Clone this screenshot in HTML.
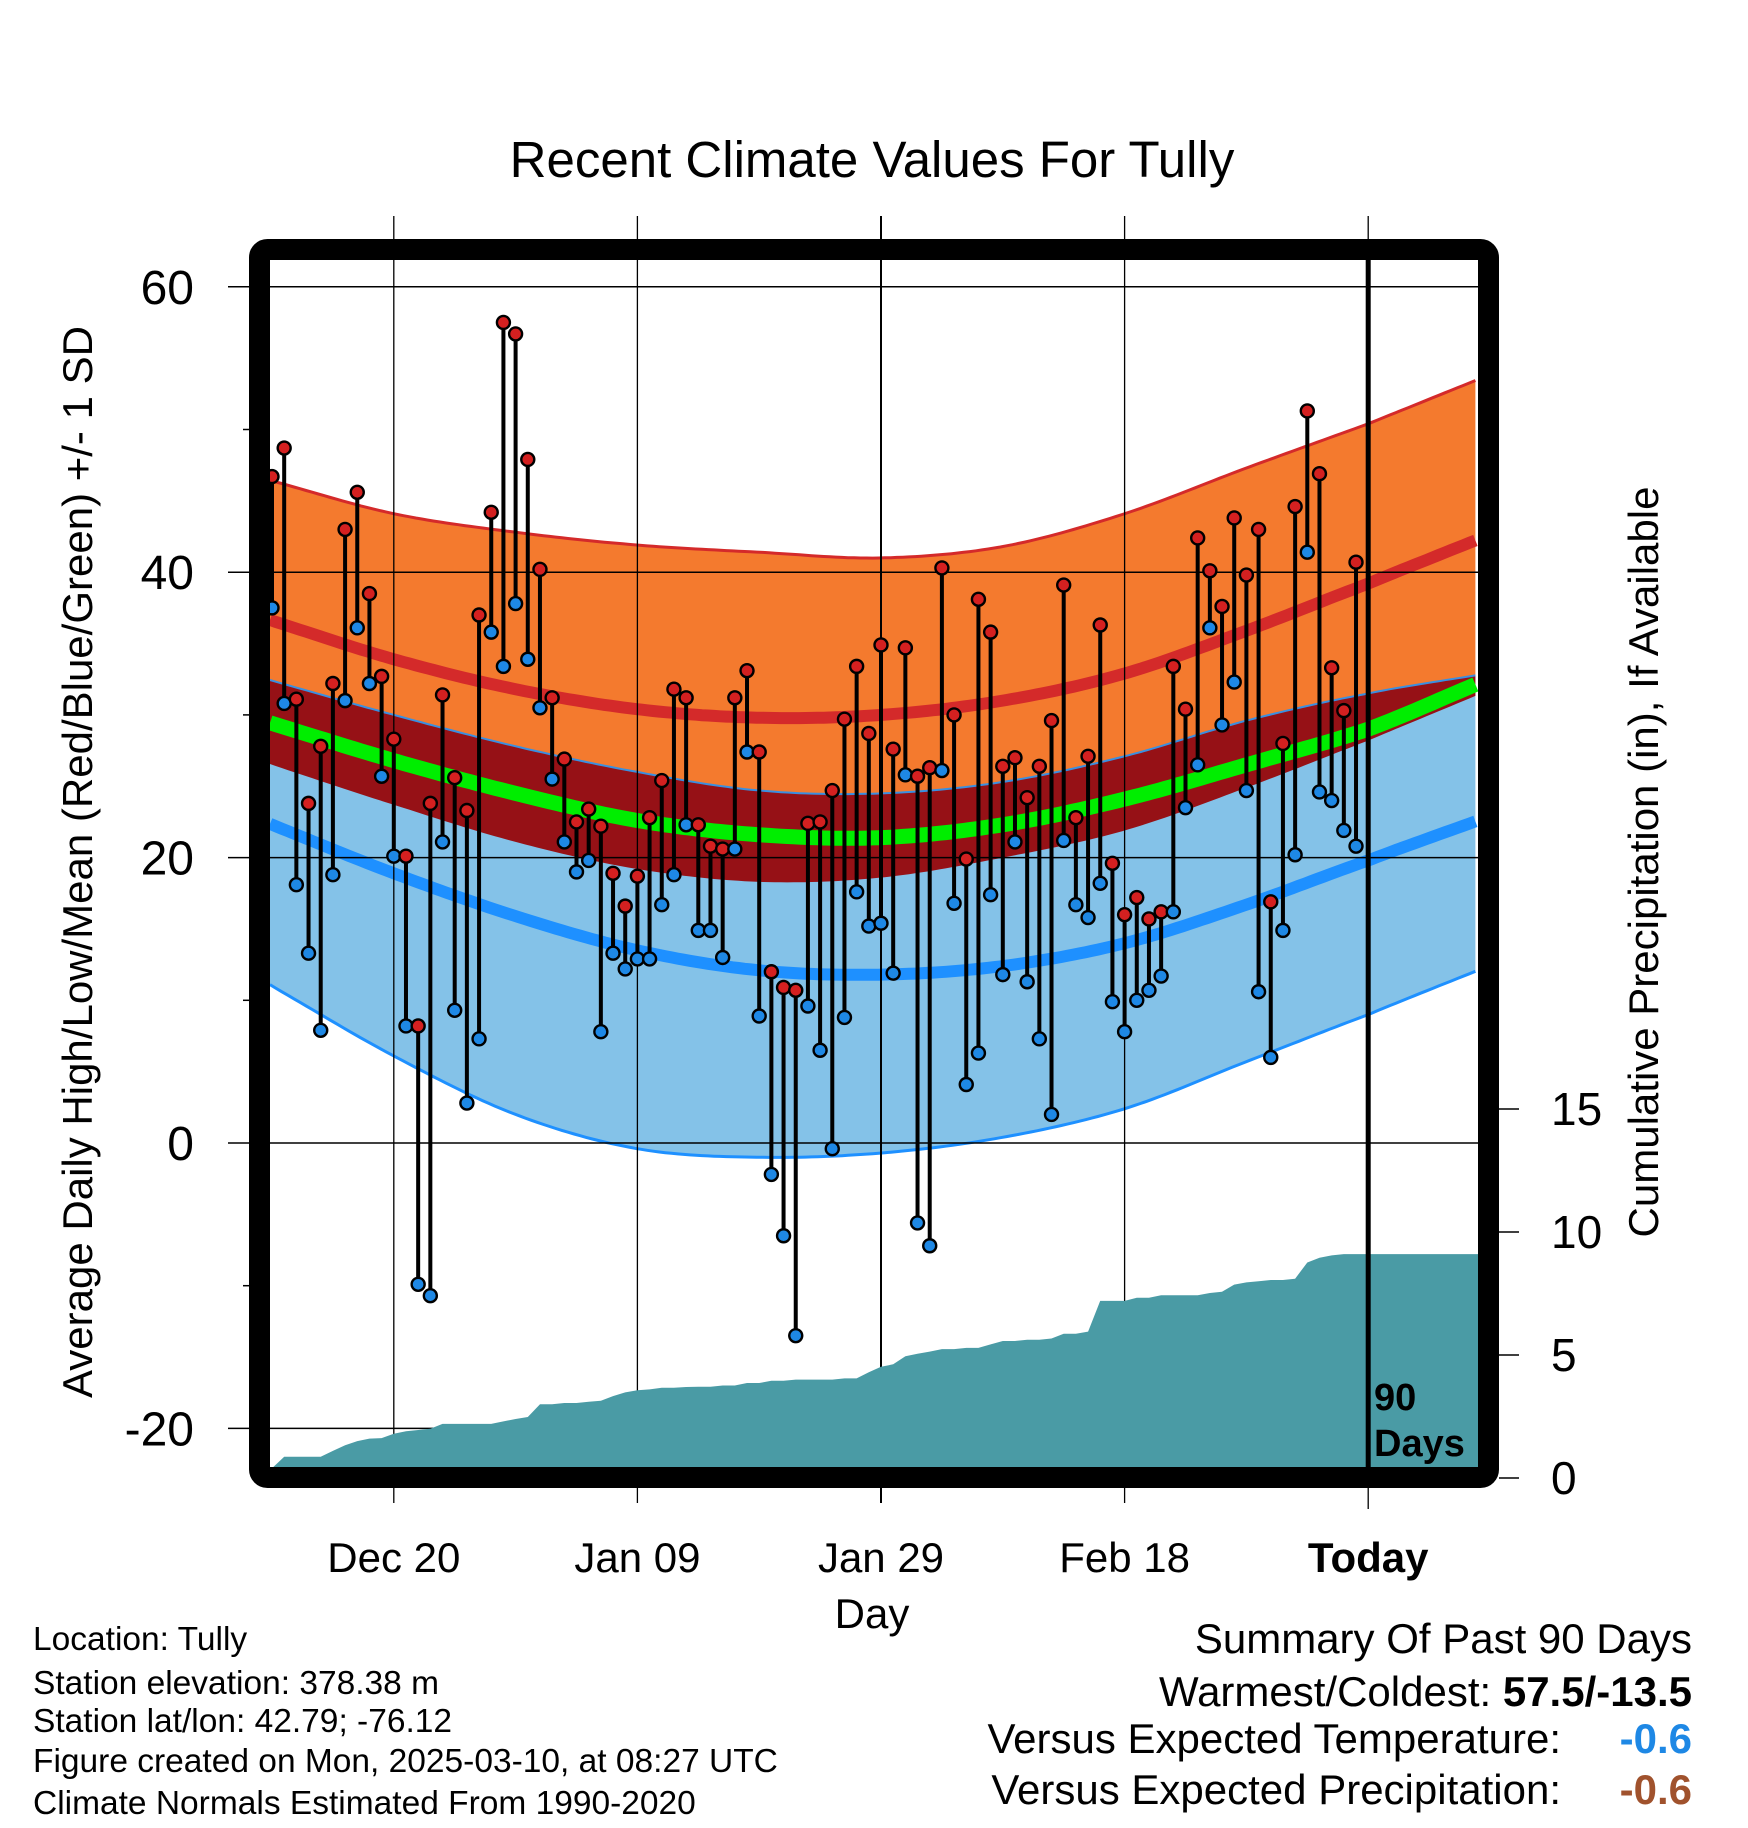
<!DOCTYPE html>
<html><head><meta charset="utf-8"><style>
body{margin:0;background:#fff;}
svg{display:block;font-family:"Liberation Sans",sans-serif;}
</style></head><body>
<svg id="chart" width="1748" height="1828" viewBox="0 0 1748 1828">
<g id="bands"></g><g id="grid"></g><g id="precip"></g><g id="marks"></g><g id="frame"></g><g id="labels"></g>
</svg>
<script>
const normDays=[0,10,20,30,40,50,60,70,80,90,99];
const highPlusSD=[46.4,44.1,42.8,41.9,41.4,41.0,41.8,44.1,47.3,50.4,53.5];
const highMean=[36.6,33.9,31.8,30.4,29.8,30.0,31.0,32.9,35.9,39.2,42.3];
const highMinusSD=[26.5,23.7,21.1,19.2,18.3,18.6,20.0,21.9,24.9,28.2,31.4];
const lowPlusSD=[32.4,30.0,27.8,26.0,24.7,24.5,25.3,27.1,29.6,31.5,32.8];
const meanTemp=[29.4,26.8,24.5,22.6,21.6,21.4,22.3,24.1,26.5,29.0,32.2];
const lowMean=[22.3,18.9,15.9,13.5,12.1,11.8,12.4,14.0,16.7,19.8,22.6];
const lowMinusSD=[11.0,6.1,2.0,-0.4,-1.0,-0.7,0.4,2.4,5.7,9.0,12.1];
const highs=[46.7,48.7,31.1,23.8,27.8,32.2,43.0,45.6,38.5,32.7,28.3,20.1,8.2,23.8,31.4,25.6,23.3,37.0,44.2,57.5,56.7,47.9,40.2,31.2,26.9,22.5,23.4,22.2,18.9,16.6,18.7,22.8,25.4,31.8,31.2,22.3,20.8,20.6,31.2,33.1,27.4,12.0,10.9,10.7,22.4,22.5,24.7,29.7,33.4,28.7,34.9,27.6,34.7,25.7,26.3,40.3,30.0,19.9,38.1,35.8,26.4,27.0,24.2,26.4,29.6,39.1,22.8,27.1,36.3,19.6,16.0,17.2,15.7,16.2,33.4,30.4,42.4,40.1,37.6,43.8,39.8,43.0,16.9,28.0,44.6,51.3,46.9,33.3,30.3,40.7];
const lows=[37.5,30.8,18.1,13.3,7.9,18.8,31.0,36.1,32.2,25.7,20.1,8.2,-9.9,-10.7,21.1,9.3,2.8,7.3,35.8,33.4,37.8,33.9,30.5,25.5,21.1,19.0,19.8,7.8,13.3,12.2,12.9,12.9,16.7,18.8,22.3,14.9,14.9,13.0,20.6,27.4,8.9,-2.2,-6.5,-13.5,9.6,6.5,-0.4,8.8,17.6,15.2,15.4,11.9,25.8,-5.6,-7.2,26.1,16.8,4.1,6.3,17.4,11.8,21.1,11.3,7.3,2.0,21.2,16.7,15.8,18.2,9.9,7.8,10.0,10.7,11.7,16.2,23.5,26.5,36.1,29.3,32.3,24.7,10.6,6.0,14.9,20.2,41.4,24.6,24.0,21.9,20.8];
const precip=[0.4,0.86,0.86,0.86,0.86,1.1,1.33,1.5,1.6,1.62,1.8,1.9,1.95,2.0,2.2,2.2,2.2,2.2,2.2,2.3,2.4,2.48,3.0,3.0,3.05,3.05,3.1,3.14,3.33,3.48,3.57,3.6,3.67,3.67,3.7,3.71,3.71,3.76,3.76,3.86,3.86,3.95,3.95,4.0,4.0,4.0,4.0,4.05,4.05,4.3,4.52,4.62,4.95,5.05,5.14,5.24,5.24,5.29,5.29,5.43,5.57,5.57,5.62,5.62,5.67,5.86,5.86,5.95,7.2,7.2,7.2,7.33,7.33,7.43,7.43,7.43,7.43,7.52,7.57,7.86,7.95,8.0,8.05,8.05,8.1,8.76,8.95,9.05,9.1,9.1];
const tempTicks=[60,40,20,0,-20];
const tempMinor=[50,30,10,-10];
const precipTicks=[0,5,10,15];
const dayTicks=[10,30,50,70,90];
const dayTickLabels=["Dec 20","Jan 09","Jan 29","Feb 18","Today"];

const NS="http://www.w3.org/2000/svg";
const L=270,R=1478,T=260,B=1467;
const xd=d=>272+d*12.18;
const yt=t=>1143-t*14.27;
const yp=p=>1478-p*24.6;
function mk(tag,attrs,parent,text){const e=document.createElementNS(NS,tag);for(const k in attrs)e.setAttribute(k,attrs[k]);if(text!==undefined)e.textContent=text;parent.appendChild(e);return e;}
function interp(arr,d){let i=0;while(i<normDays.length-2&&d>normDays[i+1])i++;
 const x0=normDays[i],x1=normDays[i+1];const p1=arr[i],p2=arr[i+1];const p0=i>0?arr[i-1]:2*p1-p2;const p3=i+2<arr.length?arr[i+2]:2*p2-p1;
 const t=(d-x0)/(x1-x0);const t2=t*t,t3=t2*t;
 return 0.5*((2*p1)+(-p0+p2)*t+(2*p0-5*p1+4*p2-p3)*t2+(-p0+3*p1-3*p2+p3)*t3);}
function linePts(arr){const pts=[];for(let d=-0.2;d<=99.01;d+=0.5)pts.push([Math.max(L,xd(d)),yt(interp(arr,d))]);return pts;}
function bandPath(a,b){const p1=linePts(a),p2=linePts(b).reverse();return "M"+p1.concat(p2).map(p=>p[0].toFixed(1)+","+p[1].toFixed(1)).join("L")+"Z";}
function linePath(a){return "M"+linePts(a).map(p=>p[0].toFixed(1)+","+p[1].toFixed(1)).join("L");}

const bands=document.getElementById('bands');
let e;
e=mk('path',{d:bandPath(highPlusSD,highMinusSD),fill:'#f47a2e'},bands);

e=mk('path',{d:bandPath(lowPlusSD,lowMinusSD),fill:'#84c2e8'},bands);

e=mk('path',{d:bandPath(lowPlusSD,highMinusSD),fill:'#961116'},bands);

e=mk('path',{d:linePath(lowPlusSD),fill:'none',stroke:'#3a8fe0','stroke-width':2},bands);

e=mk('path',{d:linePath(highPlusSD),fill:'none',stroke:'#d42a2a','stroke-width':3},bands);

e=mk('path',{d:linePath(lowMinusSD),fill:'none',stroke:'#1e90ff','stroke-width':3},bands);

e=mk('path',{d:linePath(highMean),fill:'none',stroke:'#d42a2a','stroke-width':12},bands);

e=mk('path',{d:linePath(lowMean),fill:'none',stroke:'#1e90ff','stroke-width':12},bands);

e=mk('path',{d:linePath(meanTemp),fill:'none',stroke:'#00ee00','stroke-width':15},bands);


const grid=document.getElementById('grid');
tempTicks.forEach(t=>{e=mk('line',{x1:228,x2:R,y1:yt(t),y2:yt(t),stroke:'#000','stroke-width':1.5},grid);
 });
tempMinor.forEach(t=>{e=mk('line',{x1:243,x2:252,y1:yt(t),y2:yt(t),stroke:'#000','stroke-width':1.5},grid);
 });
dayTicks.forEach((d,i)=>{e=mk('line',{x1:xd(d),x2:xd(d),y1:216,y2:i==4?1509:1503,stroke:'#000','stroke-width':i==2?2:1.3},grid);
 });

const pg=document.getElementById('precip');
let pd="M"+xd(0)+","+yp(0);
precip.forEach((p,i)=>{pd+="L"+xd(i).toFixed(1)+","+yp(p).toFixed(1);});
pd+="L"+R+","+yp(precip[precip.length-1]).toFixed(1)+"L"+R+","+yp(0)+"Z";
e=mk('path',{d:pd,fill:'#4a9ba5'},pg);


const mg=document.getElementById('marks');
highs.forEach((h,i)=>{e=mk('line',{x1:xd(i),x2:xd(i),y1:yt(h),y2:yt(lows[i]),stroke:'#000','stroke-width':4},mg);
 });
highs.forEach((h,i)=>{e=mk('circle',{cx:xd(i),cy:yt(lows[i]),r:6.5,fill:'#1e88e5',stroke:'#000','stroke-width':2.4},mg);
 
 e=mk('circle',{cx:xd(i),cy:yt(h),r:6.5,fill:'#d42020',stroke:'#000','stroke-width':2.4},mg);
 });

const fg=document.getElementById('frame');
e=mk('line',{x1:xd(90),x2:xd(90),y1:T,y2:B,stroke:'#000','stroke-width':5},fg);

e=mk('rect',{x:259.5,y:249.5,width:1229,height:1228,rx:8,fill:'none',stroke:'#000','stroke-width':21},fg);

precipTicks.forEach(p=>{e=mk('line',{x1:1499,x2:1519,y1:yp(p),y2:yp(p),stroke:'#000','stroke-width':1.5},fg);
 });

const lg=document.getElementById('labels');
tempTicks.forEach(t=>{e=mk('text',{x:194,y:yt(t)+17,'text-anchor':'end','font-size':48},lg,String(t));
 });
precipTicks.forEach(p=>{e=mk('text',{x:1551,y:yp(p)+16,'font-size':46},lg,String(p));
 });
dayTicks.forEach((d,i)=>{e=mk('text',{x:xd(d),y:1572,'text-anchor':'middle','font-size':42,'font-weight':i==4?'bold':'normal'},lg,dayTickLabels[i]);
 });
</script>
<svg width="1748" height="1828" style="position:absolute;left:0;top:0" font-family="Liberation Sans, sans-serif">
<text x="872" y="177" text-anchor="middle" font-size="51">Recent Climate Values For Tully</text>
<text x="872" y="1628" text-anchor="middle" font-size="42">Day</text>
<text transform="translate(92,862) rotate(-90)" text-anchor="middle" font-size="42">Average Daily High/Low/Mean (Red/Blue/Green) +/- 1 SD</text>
<text transform="translate(1658,862) rotate(-90)" text-anchor="middle" font-size="42">Cumulative Precipitation (in), If Available</text>
<text x="1374" y="1410" font-size="38" font-weight="bold">90</text>
<text x="1374" y="1456" font-size="38" font-weight="bold">Days</text>
<g font-size="33.5">
<text x="33" y="1650">Location: Tully</text>
<text x="33" y="1694">Station elevation: 378.38 m</text>
<text x="33" y="1732">Station lat/lon: 42.79; -76.12</text>
<text x="33" y="1772">Figure created on Mon, 2025-03-10, at 08:27 UTC</text>
<text x="33" y="1814">Climate Normals Estimated From 1990-2020</text>
</g>
<g font-size="42" text-anchor="end">
<text x="1692" y="1653">Summary Of Past 90 Days</text>
<text x="1692" y="1706">Warmest/Coldest: <tspan font-weight="bold">57.5/-13.5</tspan></text>
<text x="1561" y="1753">Versus Expected Temperature:</text>
<text x="1692" y="1753" fill="#1e88e5" font-weight="bold">-0.6</text>
<text x="1561" y="1804">Versus Expected Precipitation:</text>
<text x="1692" y="1804" fill="#a0522d" font-weight="bold">-0.6</text>
</g>
</svg>
</body></html>
